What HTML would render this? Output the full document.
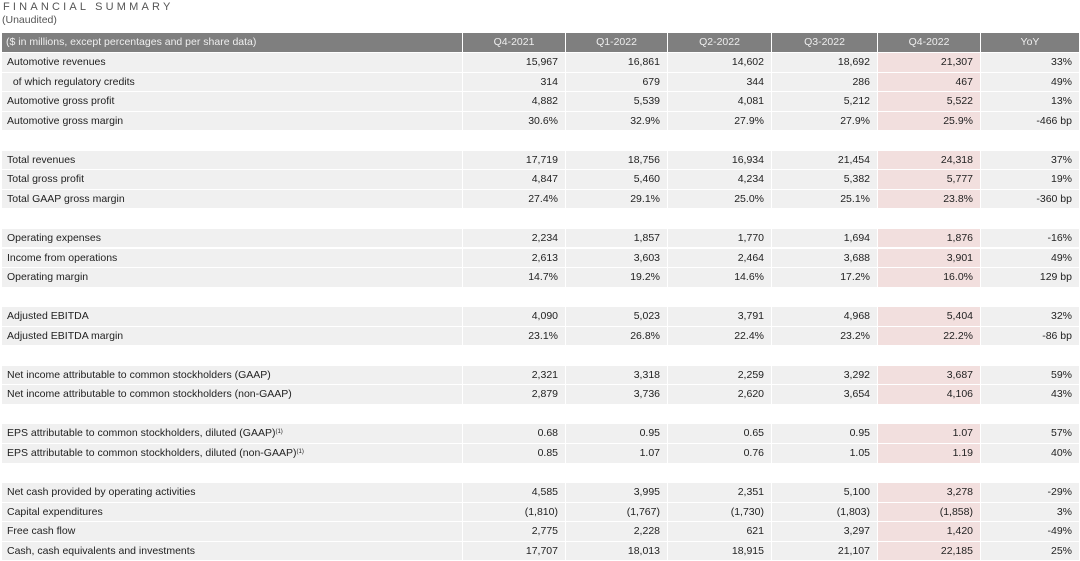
<!DOCTYPE html>
<html><head><meta charset="utf-8"><style>
body{margin:0;width:1080px;height:561px;background:#fff;position:relative;overflow:hidden;font-family:"Liberation Sans",sans-serif}
#title{position:absolute;left:3px;top:1px;font-size:11px;letter-spacing:3.2px;color:#555}
#sub{position:absolute;left:2px;top:14px;font-size:10.5px;color:#555}
.c{position:absolute;box-sizing:border-box;font-size:10.5px;color:#222;white-space:nowrap;line-height:18.5px;height:18.5px;overflow:hidden}
.h{background:#7f7f7f;color:#eee}
.r{text-align:right;padding-right:7px}
sup{font-size:6px;vertical-align:3px;line-height:0}
</style></head><body>
<div id="title">FINANCIAL SUMMARY</div>
<div id="sub">(Unaudited)</div>
<div id="tbl"></div>
<script>
const headers=["($ in millions, except percentages and per share data)","Q4-2021","Q1-2022","Q2-2022","Q3-2022","Q4-2022","YoY"];
const labels=["Automotive revenues","&nbsp;&nbsp;of which regulatory credits","Automotive gross profit","Automotive gross margin",null,"Total revenues","Total gross profit","Total GAAP gross margin",null,"Operating expenses","Income from operations","Operating margin",null,"Adjusted EBITDA","Adjusted EBITDA margin",null,"Net income attributable to common stockholders (GAAP)","Net income attributable to common stockholders (non-GAAP)",null,"EPS attributable to common stockholders, diluted (GAAP)<sup>(1)</sup>","EPS attributable to common stockholders, diluted (non-GAAP)<sup>(1)</sup>",null,"Net cash provided by operating activities","Capital expenditures","Free cash flow","Cash, cash equivalents and investments"];
const q4_2021=["15,967","314","4,882","30.6%",null,"17,719","4,847","27.4%",null,"2,234","2,613","14.7%",null,"4,090","23.1%",null,"2,321","2,879",null,"0.68","0.85",null,"4,585","(1,810)","2,775","17,707"];
const q1_2022=["16,861","679","5,539","32.9%",null,"18,756","5,460","29.1%",null,"1,857","3,603","19.2%",null,"5,023","26.8%",null,"3,318","3,736",null,"0.95","1.07",null,"3,995","(1,767)","2,228","18,013"];
const q2_2022=["14,602","344","4,081","27.9%",null,"16,934","4,234","25.0%",null,"1,770","2,464","14.6%",null,"3,791","22.4%",null,"2,259","2,620",null,"0.65","0.76",null,"2,351","(1,730)","621","18,915"];
const q3_2022=["18,692","286","5,212","27.9%",null,"21,454","5,382","25.1%",null,"1,694","3,688","17.2%",null,"4,968","23.2%",null,"3,292","3,654",null,"0.95","1.05",null,"5,100","(1,803)","3,297","21,107"];
const q4_2022=["21,307","467","5,522","25.9%",null,"24,318","5,777","23.8%",null,"1,876","3,901","16.0%",null,"5,404","22.2%",null,"3,687","4,106",null,"1.07","1.19",null,"3,278","(1,858)","1,420","22,185"];
const yoy=["33%","49%","13%","-466 bp",null,"37%","19%","-360 bp",null,"-16%","49%","129 bp",null,"32%","-86 bp",null,"59%","43%",null,"57%","40%",null,"-29%","3%","-49%","25%"];
const colX=[2,463,566,668,772,878,981,1080];
const cols=[labels,q4_2021,q1_2022,q2_2022,q3_2022,q4_2022,yoy];
const names=["label","q4-2021","q1-2022","q2-2022","q3-2022","q4-2022","yoy"];
const T=document.getElementById('tbl');
function cell(x,w,y,html,cls,bg){const d=document.createElement('div');d.className='c '+cls;d.style.left=x+'px';d.style.width=w+'px';d.style.top=y+'px';if(bg)d.style.background=bg;d.innerHTML=html;T.appendChild(d);return d;}
headers.forEach((h,j)=>{const d=cell(colX[j],colX[j+1]-colX[j]-1,33,h,'h',null);d.style.textAlign=j?'center':'left';if(!j)d.style.paddingLeft='4px';

});
const H=19.55;
labels.forEach((l,i)=>{if(l===null)return;const y=53+H*i;
cols.forEach((c,j)=>{const bg=j===5?'#f2dfde':'#f0f0f0';const d=cell(colX[j],colX[j+1]-colX[j]-1,y,c[i],j?'r':'',bg);if(!j)d.style.paddingLeft='5px';

});});
</script>
</body></html>
